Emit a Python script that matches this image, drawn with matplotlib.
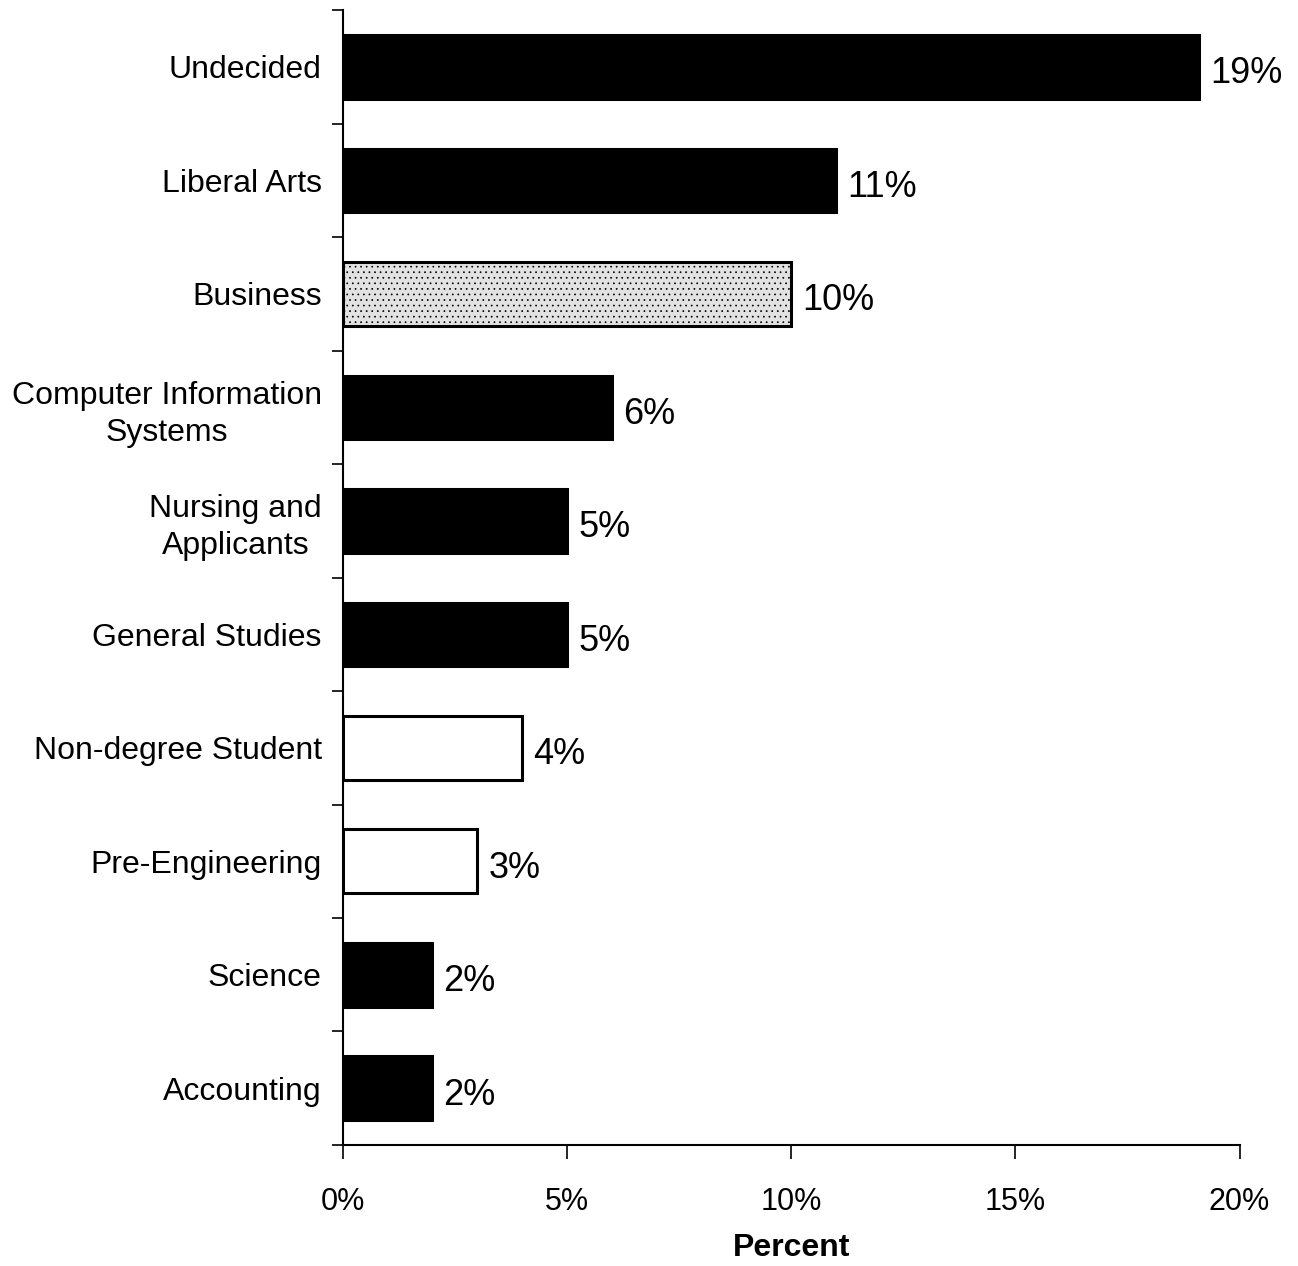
import matplotlib.pyplot as plt
from matplotlib.ticker import PercentFormatter

categories = ['Undecided', 'Liberal Arts', 'Business', 'Computer Information\nSystems',
              'Nursing and\nApplicants', 'General Studies', 'Non-degree Student',
              'Pre-Engineering', 'Science', 'Accounting']
values = [19.1, 11.0, 10.0, 6.0, 5.0, 5.0, 4.0, 3.0, 2.0, 2.0]
value_labels = ['19%', '11%', '10%', '6%', '5%', '5%', '4%', '3%', '2%', '2%']
fills = ['black', 'black', '#e2e2e2', 'black', 'black', 'black',
         'white', 'white', 'black', 'black']
x_ticks = [0, 5, 10, 15, 20]


def main():
    plt.rcParams['font.family'] = ['Liberation Sans', 'DejaVu Sans']
    plt.rcParams['hatch.color'] = '#777777'
    plt.rcParams['hatch.linewidth'] = 0.5

    fig = plt.figure(figsize=(12.98, 12.66), dpi=100)
    ax = fig.add_axes([0.264, 0.0956, 0.691, 0.8964])

    pos = list(range(len(categories)))
    bars = ax.barh(pos, values, height=0.56, color=fills, edgecolor='black', linewidth=2.2)
    bars[2].set_hatch('...')

    for p, v, lab in zip(pos, values, value_labels):
        ax.text(v + 0.25, p + 0.06, lab, va='center', ha='left', fontsize=26)

    ax.set_ylim(len(categories) - 0.5, -0.5)
    ax.set_xlim(0, 20)
    ax.set_yticks(pos)
    ax.set_yticklabels(categories, fontsize=23, ha='right', multialignment='center',
                       linespacing=1.3)
    ax.tick_params(axis='y', length=0, pad=15)
    ax.set_yticks([i - 0.5 for i in range(len(categories) + 1)], minor=True)
    ax.tick_params(axis='y', which='minor', length=8, width=1.2, direction='out')

    ax.set_xticks(x_ticks)
    ax.xaxis.set_major_formatter(PercentFormatter(decimals=0))
    ax.tick_params(axis='x', length=10, width=1.2, labelsize=22, pad=20)
    ax.set_xlabel('Percent', fontsize=23, fontweight='bold', labelpad=12)

    ax.spines['top'].set_visible(False)
    ax.spines['right'].set_visible(False)
    ax.spines['left'].set_linewidth(1.5)
    ax.spines['bottom'].set_linewidth(1.5)

    fig.savefig('out.png', dpi=100)


if __name__ == '__main__':
    main()
